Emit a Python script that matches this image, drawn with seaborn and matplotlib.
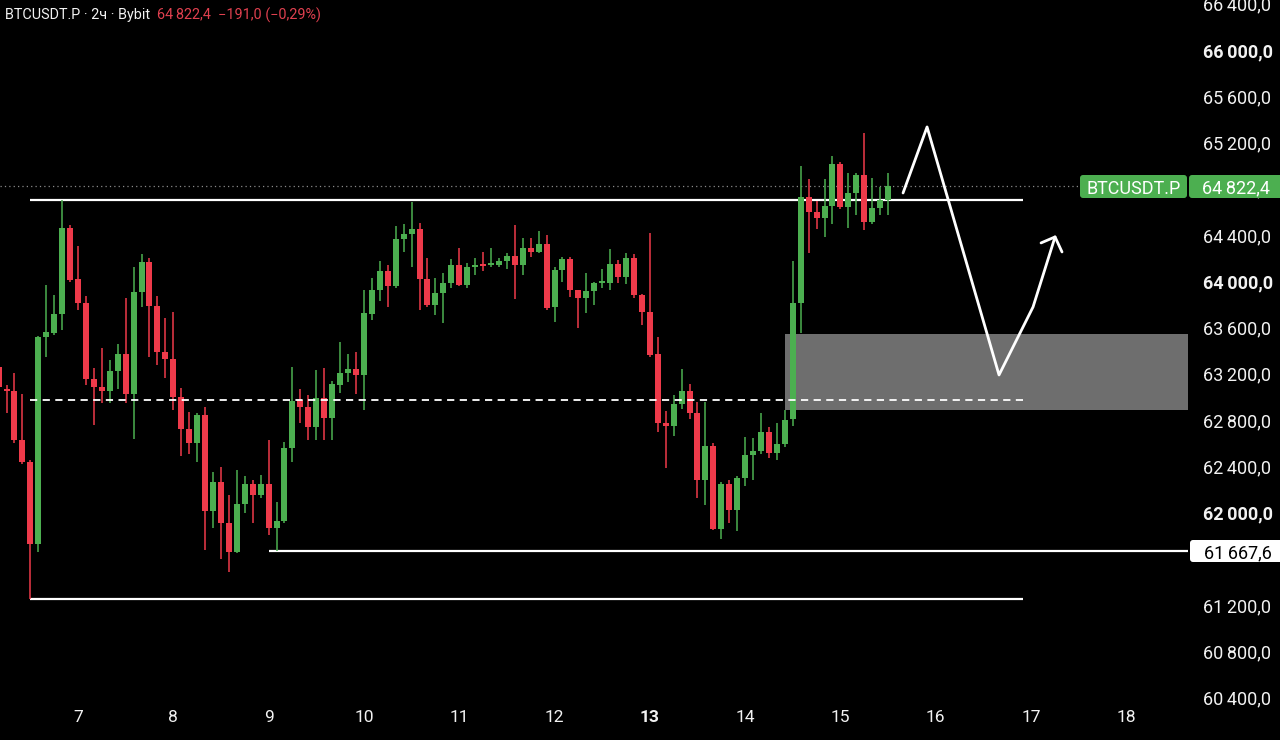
import numpy as np
import matplotlib
matplotlib.use("Agg")
import matplotlib.pyplot as plt
from matplotlib.patches import FancyBboxPatch
from matplotlib.transforms import IdentityTransform
import seaborn as sns

# =====================================================
# data (BTCUSDT.P, 2h candles)
# =====================================================

opens = [63258, 63068, 63051, 62627, 62437, 61728, 63518, 63552, 63717, 64461,
         64019, 63812, 63155, 63085, 63051, 63224, 63371, 63025, 63907, 64167,
         63786, 63388, 63328, 62999, 62722, 62601, 62843, 62013, 62264, 61909,
         61658, 62074, 62247, 62151, 62247, 61866, 61927, 62558, 62973, 62912,
         62739, 62990, 62817, 63103, 63207, 63241, 63189, 63717, 63924, 64089,
         63959, 64365, 64409, 64452, 64019, 63795, 63898, 63985, 64141, 63968,
         64123, 64149, 64141, 64141, 64175, 64218, 64141, 64288, 64253, 64322,
         63777, 64097, 64192, 63924, 63855, 63916, 63985, 63985, 64149, 64037,
         64201, 63881, 63734, 63371, 62774, 62748, 62938, 63051, 62861, 62281,
         62575, 61857, 62247, 62022, 62298, 62497, 62532, 62696, 62515, 62592,
         62809, 63812, 64729, 64599, 64547, 64651, 65014, 64642, 64763, 64919,
         64512, 64634, 64703]

highs = [63319, 63103, 63207, 63025, 62454, 63530, 63968, 63881, 64703, 64487,
         64305, 63872, 63250, 63423, 63319, 63457, 63855, 64123, 64236, 64201,
         63872, 63682, 63734, 63077, 62869, 62861, 62912, 62350, 62394, 62151,
         62368, 62316, 62281, 62324, 62627, 62091, 62610, 63258, 63068, 63016,
         63232, 63250, 63137, 63475, 63371, 63388, 63924, 64028, 64175, 64141,
         64478, 64495, 64685, 64504, 64201, 64028, 64071, 64192, 64288, 64158,
         64201, 64253, 64288, 64201, 64244, 64487, 64374, 64374, 64435, 64400,
         64123, 64210, 64210, 63924, 64071, 63994, 64106, 64279, 64184, 64244,
         64236, 63890, 64417, 63518, 62878, 63016, 63241, 63111, 62956, 62956,
         62601, 62264, 62281, 62316, 62653, 62644, 62861, 62739, 62774, 62886,
         64175, 64997, 64884, 64694, 64884, 65083, 65031, 64936, 64936, 65282,
         64893, 64815, 64936]

lows = [63016, 62861, 62601, 62419, 61252, 61658, 63345, 63535, 63578, 63994,
        63751, 63103, 62757, 62947, 62947, 63068, 62947, 62636, 63777, 63345,
        63276, 63163, 62886, 62489, 62506, 62437, 61676, 61866, 61598, 61485,
        61650, 61996, 61909, 62125, 61805, 61668, 61909, 62437, 62774, 62627,
        62627, 62627, 62627, 63034, 63129, 63025, 62886, 63665, 63829, 63777,
        63942, 64253, 64123, 63751, 63777, 63708, 63639, 63942, 63959, 63942,
        64054, 64089, 64123, 64123, 64106, 63847, 64054, 64210, 64244, 63751,
        63648, 63994, 63864, 63596, 63725, 63795, 63942, 63924, 63985, 63976,
        63855, 63622, 63345, 62696, 62385, 62662, 62895, 62809, 62125, 62065,
        61849, 61771, 61909, 61840, 62229, 62281, 62506, 62471, 62454, 62567,
        62748, 63552, 64244, 64452, 64383, 64495, 64625, 64461, 64573, 64443,
        64495, 64573, 64573]

closes = [63085, 63051, 62627, 62437, 61728, 63518, 63561, 63717, 64461, 64011,
          63812, 63155, 63085, 63051, 63224, 63371, 63025, 63907, 64167, 63786,
          63388, 63328, 62999, 62722, 62601, 62843, 62013, 62264, 61909, 61658,
          62074, 62247, 62151, 62247, 61866, 61927, 62558, 62964, 62912, 62739,
          62990, 62817, 63111, 63207, 63241, 63189, 63725, 63924, 64089, 63959,
          64365, 64409, 64452, 64019, 63795, 63898, 63985, 64141, 63968, 64123,
          64141, 64132, 64158, 64175, 64218, 64141, 64288, 64253, 64322, 63769,
          64097, 64192, 63924, 63855, 63916, 63985, 63994, 64149, 64037, 64201,
          63881, 63734, 63362, 62774, 62748, 62938, 63051, 62861, 62281, 62575,
          61857, 62247, 62022, 62298, 62497, 62532, 62696, 62515, 62592, 62800,
          63812, 64729, 64599, 64547, 64651, 65014, 64642, 64763, 64919, 64512,
          64634, 64703, 64822.4]

# first candle: 6th, 04:00, step 2h (in days)
first_candle_day = 6 + 4 / 24

day_ticks = list(range(7, 19))
price_ticks = list(range(60400, 66401, 400))
bold_prices = [62000, 64000, 66000]
hidden_prices = [61600]  # sits under the 61 667,6 tag

# drawn levels
range_top = 64700
range_mid = 62973
range_low = 61252
last_low = 61667.6
zone_top = 63545
zone_bottom = 62886
last_price = 64822.4

# projected path (hand drawn arrow)
path_days = [15.657, 15.909, 16.664, 17.021, 17.252]
path_prices = [64763, 65334, 63189, 63777, 64383]
head_days = [17.105, 17.252, 17.325]
head_prices = [64331, 64383, 64253]

header_left = "BTCUSDT.P · 2ч · Bybit"
header_right = "64\u2009822,4  \u2212191,0 (\u22120,29%)"

# =====================================================
# style
# =====================================================

GREEN = "#4caf50"
RED = "#ee3a4a"
WHITE = "#f2f2f2"

sns.set_theme(style="dark", rc={
    "axes.facecolor": "black",
    "figure.facecolor": "black",
    "savefig.facecolor": "black",
})
plt.rcParams["font.family"] = ["Roboto", "DejaVu Sans"]


def fmt_price(v):
    s = f"{v:,.1f}"
    return s.replace(",", "\u2009").replace(".", ",")


# =====================================================
# figure
# =====================================================

fig = plt.figure(figsize=(12.8, 7.4), dpi=100)
ax = fig.add_axes([0, 34 / 740, 1188 / 1280, 706 / 740])

o = np.array(opens, dtype=float)
h = np.array(highs, dtype=float)
l = np.array(lows, dtype=float)
c = np.array(closes, dtype=float)
t = first_candle_day + np.arange(len(o)) / 12

up = c >= o
colors = np.where(up, GREEN, RED)
body_h = np.maximum(np.abs(c - o), 14)
body_b = np.minimum(o, c)

x_left, x_right = 6.1815, 18.647

# gray zone
ax.fill_between([14.42, x_right], zone_bottom, zone_top,
                color="#6e6e6e", lw=0, zorder=1)

# levels
ax.hlines(range_top, 6.5, 16.916, color="white", lw=1.6, zorder=2)
ax.hlines(range_low, 6.5, 16.916, color="white", lw=1.6, zorder=2)
ax.hlines(last_low, 9.0, x_right, color="white", lw=1.6, zorder=2)
ax.hlines(last_price, x_left, 17.514, color="#8a8a8a", lw=0.9,
          linestyles=(0, (1, 2.5)), zorder=2)

# candles
ax.vlines(t, l, h, colors=colors, lw=1.1, zorder=3)
ax.bar(t, body_h, bottom=body_b, width=0.063, color=colors,
       linewidth=0, zorder=4)

ax.hlines(range_mid, 6.5, 16.916, color="white", lw=1.3,
          linestyles=(0, (4, 3)), zorder=5)

# projection arrow
sns.lineplot(x=path_days, y=path_prices, sort=False, estimator=None,
             color="white", lw=2.0, ax=ax, zorder=6)
sns.lineplot(x=head_days, y=head_prices, sort=False, estimator=None,
             color="white", lw=2.0, ax=ax, zorder=6)

ax.set_xlim(x_left, x_right)
ax.set_ylim(60326, 66432)

for s in ax.spines.values():
    s.set_visible(False)
ax.grid(False)

ax.yaxis.tick_right()
ax.set_yticks(price_ticks)
ax.set_yticklabels(["" if p in hidden_prices else fmt_price(p)
                    for p in price_ticks])
ax.tick_params(axis="y", length=0, pad=11, labelsize=13, labelcolor=WHITE)
for lab, p in zip(ax.get_yticklabels(), price_ticks):
    if p in bold_prices:
        lab.set_fontweight("bold")

ax.set_xticks(day_ticks)
ax.set_xticklabels([str(d) for d in day_ticks])
ax.tick_params(axis="x", length=0, pad=3, labelsize=12.5, labelcolor=WHITE)
for lab, d in zip(ax.get_xticklabels(), day_ticks):
    if d == 13:
        lab.set_fontweight("bold")

ax.set_xlabel("")
ax.set_ylabel("")

# =====================================================
# labels on the price scale (pixel boxes)
# =====================================================

H = 740


def tag(x0, y0, w, hgt, txt, fc, tc):
    box = FancyBboxPatch((x0, H - y0 - hgt), w, hgt,
                         boxstyle="round,pad=0,rounding_size=3",
                         fc=fc, ec="none", transform=IdentityTransform(),
                         zorder=10)
    fig.add_artist(box)
    fig.text(x0 + w / 2, H - y0 - hgt / 2, txt, transform=IdentityTransform(),
             ha="center", va="center_baseline", color=tc, fontsize=13,
             zorder=11)


tag(1080, 175, 107, 23, "BTCUSDT.P", GREEN, "white")
tag(1189, 175, 95, 23, fmt_price(last_price), GREEN, "white")
tag(1190, 540, 95, 22, fmt_price(last_low), "white", "black")

# header
fig.text(5, H - 14, header_left, transform=IdentityTransform(),
         ha="left", va="center_baseline", color=WHITE, fontsize=10.4)
fig.text(157, H - 14, header_right, transform=IdentityTransform(),
         ha="left", va="center_baseline", color="#e0404f", fontsize=10.4)

fig.savefig("out.png", dpi=100)
